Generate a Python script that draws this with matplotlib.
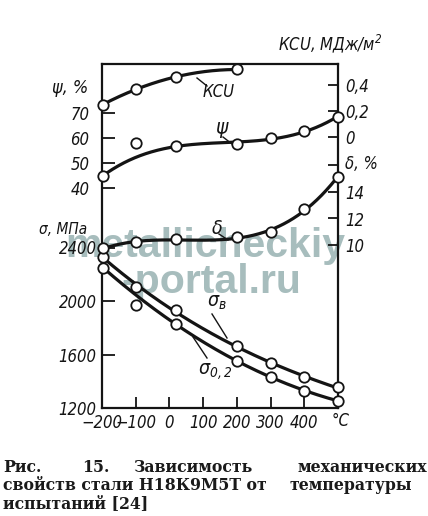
import numpy as np
import matplotlib
matplotlib.use("Agg")
import matplotlib.pyplot as plt
from matplotlib.lines import Line2D

# ---------------- data ----------------
temp_c = [-196, -100, 20, 200, 300, 400, 500]
kcu_temp = [-196, -100, 20, 200]
kcu = [0.25, 0.37, 0.46, 0.52]                       # MJ/m^2
psi = [44.9, 57.9, 56.9, 57.6, 59.9, 62.8, 68.5]     # %
delta = [9.75, 10.2, 10.43, 10.58, 10.96, 12.73, 15.15]  # %
sigma_b = [2332, 2103, 1930, 1664, 1537, 1429, 1354]     # MPa
sigma_02 = [2248, 1967, 1825, 1552, 1433, 1329, 1254]    # MPa
# weights for the hand-drawn trend curves (curve misses some points)
psi_fit_w = [1, 0.15, 1, 1, 1, 1, 1]
sigma02_fit_w = [1, 0.15, 1, 1, 1, 1, 1]

x_ticks = [-200, -100, 0, 100, 200, 300, 400]
x_labels = ["−200", "−100", "0", "100", "200", "300", "400"]
sigma_ticks = [1200, 1600, 2000, 2400]
psi_ticks = [40, 50, 60, 70]
kcu_ticks = [0, 0.2, 0.4]
kcu_labels = ["0", "0,2", "0,4"]
delta_ticks = [10, 12, 14, 16]
delta_labels = ["10", "12", "14", ""]

# ---------------- styling ----------------
INK = "#141414"
plt.rcParams["font.family"] = ["DejaVu Sans"]
plt.rcParams["font.style"] = "oblique"
plt.rcParams["font.stretch"] = "condensed"
plt.rcParams["font.size"] = 12
plt.rcParams["text.color"] = INK
plt.rcParams["xtick.color"] = INK
plt.rcParams["ytick.color"] = INK
plt.rcParams["mathtext.fontset"] = "custom"
plt.rcParams["mathtext.it"] = "DejaVu Sans:oblique"
plt.rcParams["mathtext.rm"] = "DejaVu Sans:oblique"

W, H = 428, 516
L, R, T, B = 102, 338, 64, 408
fig = plt.figure(figsize=(W / 100, H / 100), dpi=100)
fig.patch.set_facecolor("white")
ax = fig.add_axes([L / W, 1 - B / H, (R - L) / W, (B - T) / H])


def lims(v0, y0, ppu):
    return (v0 - (B - y0) / ppu, v0 + (y0 - T) / ppu)


ax.set_xlim(-200, 500)
ax.set_ylim(*lims(1200, 408, 53.5 / 400))

axp = ax.twinx()
axk = ax.twinx()
axd = ax.twinx()
axp.set_ylim(*lims(40, 188, 2.5))
axk.set_ylim(*lims(0, 137, 130))
axd.set_ylim(*lims(10, 245, 13.25))

for a in (axp, axk, axd):
    for s in a.spines.values():
        s.set_visible(False)
    a.set_xlim(-200, 500)

for s in ax.spines.values():
    s.set_linewidth(1.6)
    s.set_color(INK)

ax.set_xticks(x_ticks, x_labels)
ax.set_yticks(sigma_ticks, [str(v) for v in sigma_ticks])
ax.tick_params(axis="x", direction="in", length=8, width=1.3, pad=4)
ax.tick_params(axis="y", direction="in", length=9, width=1.3, pad=4)

axp.yaxis.tick_left()
axp.set_yticks(psi_ticks, [str(v) for v in psi_ticks])
axp.tick_params(axis="y", direction="in", length=9, width=1.3, pad=9)

axk.set_yticks(kcu_ticks, kcu_labels)
axk.tick_params(axis="y", direction="in", length=7, width=1.3, pad=5)
axd.set_yticks(delta_ticks, delta_labels)
axd.tick_params(axis="y", direction="in", length=7, width=1.3, pad=5)


def trend(a, x, y, deg, w=None):
    c = np.polyfit(x, y, deg, w=w)
    xs = np.linspace(x[0], x[-1], 300)
    a.plot(xs, np.polyval(c, xs), color=INK, lw=2.3, clip_on=False, zorder=3,
           solid_capstyle="round")
    a.plot(x, y, "o", ms=7.5, mfc="white", mec=INK, mew=1.3, clip_on=False, zorder=5)


trend(axk, kcu_temp, kcu, 2)
trend(axp, temp_c, psi, 3, psi_fit_w)
trend(axd, temp_c, delta, 4)
trend(ax, temp_c, sigma_b, 3)
trend(ax, temp_c, sigma_02, 3, sigma02_fit_w)


def ft(x, y, s, **kw):
    kw.setdefault("ha", "center")
    kw.setdefault("va", "center")
    return fig.text(x / W, 1 - y / H, s, **kw)


def leader(x1, y1, x2, y2):
    fig.add_artist(Line2D([x1 / W, x2 / W], [1 - y1 / H, 1 - y2 / H],
                          transform=fig.transFigure, lw=1.0, color=INK))


# axis titles
ft(330, 44, "КСU, МДж/м$^{2}$")
ft(70, 88, "ψ, %", size=13)
ft(63, 229, "σ, МПа", size=11)
ft(361, 164, "δ, %")
ft(341, 421, "°C")

# curve labels with leaders
ft(219, 92, "КСU")
leader(197, 78, 207, 86)
ft(221, 128, "ψ", size=15)
leader(223, 137, 232, 144)
ft(217, 228, "δ", size=14)
leader(219, 234, 228, 240)
ft(217, 302, "σ$_{в}$", size=14)
leader(212, 314, 227, 338)
ft(215, 372, "σ$_{0,2}$", size=14)
leader(207, 358, 193, 337)

# watermark (drawn under the curves)
wm = dict(transform=fig.transFigure, family=["Liberation Sans", "DejaVu Sans"],
          style="normal", stretch="normal", weight="bold", size=29.5, color="#a7bdbd",
          ha="center", va="baseline", zorder=1, clip_on=False)
ax.text(205 / W, 1 - 257 / H, "metallicheckiy", **wm)
ax.text(211 / W, 1 - 293 / H, "-portal.ru", **wm)

# caption
cap = dict(family=["DejaVu Serif"], style="normal", stretch="normal", weight="bold",
           size=11.3, color="#1a1a1a", va="center")
ft(3, 467, "Рис.", ha="left", **cap)
ft(82, 467, "15.", ha="left", **cap)
ft(133, 467, "Зависимость", ha="left", **cap)
ft(427, 467, "механических", ha="right", **cap)
ft(3, 486, "свойств стали Н18К9М5Т от", ha="left", **cap)
ft(290, 486, "температуры", ha="left", **cap)
ft(3, 504, "испытаний [24]", ha="left", **cap)

fig.savefig("out.png", dpi=100, facecolor="white")
